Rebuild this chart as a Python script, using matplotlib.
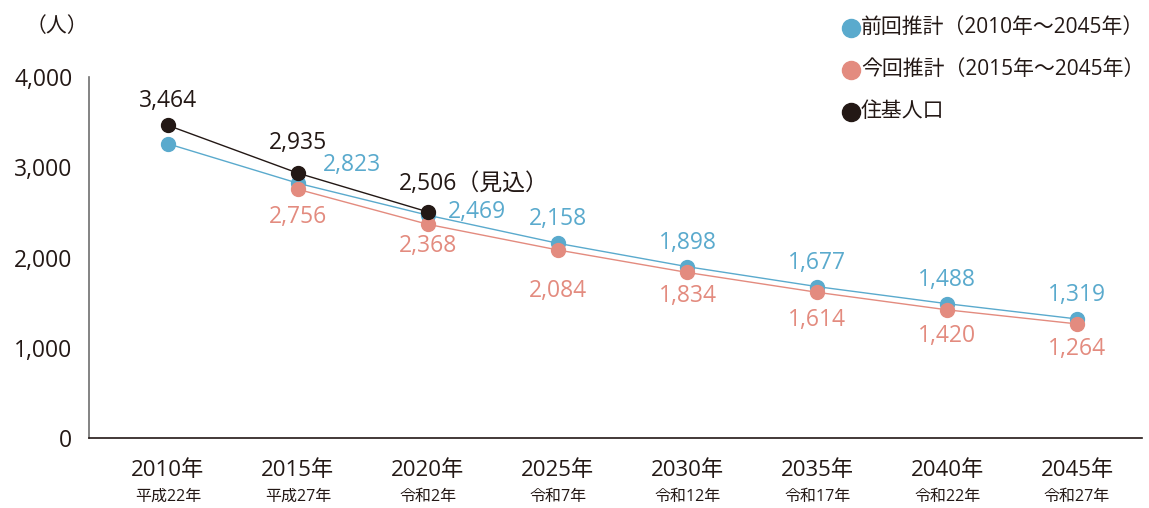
import matplotlib
matplotlib.use("Agg")
import matplotlib.pyplot as plt
from matplotlib.transforms import blended_transform_factory

plt.rcParams['font.family'] = ['Open Sans', 'Noto Sans CJK JP', 'DejaVu Sans']

years = ["2010年", "2015年", "2020年", "2025年", "2030年", "2035年", "2040年", "2045年"]
eras = ["平成22年", "平成27年", "令和2年", "令和7年", "令和12年", "令和17年", "令和22年", "令和27年"]
prev_est = [3260, 2823, 2469, 2158, 1898, 1677, 1488, 1319]   # 前回推計 (2010 unlabeled, estimated)
curr_est = [2756, 2368, 2084, 1834, 1614, 1420, 1264]         # 今回推計 2015-2045
resident = [3464, 2935, 2506]                                 # 住基人口 2010-2020
yticks = [0, 1000, 2000, 3000, 4000]

BLUE = "#5aaacd"
PINK = "#e38b7f"
BLACK = "#231815"
TXT = "#231815"

W, H = 1149, 508
fig = plt.figure(figsize=(W / 100, H / 100), dpi=100)
ax = fig.add_axes([89 / W, (H - 438) / H, (1142 - 89) / W, (438 - 77) / H])

x_all = list(range(len(years)))
x_curr = x_all[1:]
x_res = x_all[:3]

ax.plot(x_all, prev_est, color=BLUE, lw=1.0, marker='o', ms=10, zorder=3)
ax.plot(x_curr, curr_est, color=PINK, lw=1.0, marker='o', ms=10, zorder=3)
ax.plot(x_res, resident, color=BLACK, lw=1.0, marker='o', ms=10, zorder=4)

ax.set_xlim(-0.608, 7.5)
ax.set_ylim(0, 4000)
ax.set_yticks(yticks)
ax.set_yticklabels([f"{v:,}" for v in yticks], fontsize=16.5, color=TXT)
ax.tick_params(axis='y', length=0, pad=12)
ax.set_xticks([])
for s in ['top', 'right']:
    ax.spines[s].set_visible(False)
ax.spines['left'].set_color("#6e6e6e")
ax.spines['left'].set_linewidth(1.2)
ax.spines['bottom'].set_color(BLACK)
ax.spines['bottom'].set_linewidth(1.2)

# x labels
tr = blended_transform_factory(ax.transData, fig.transFigure)
for i, (yr, er) in enumerate(zip(years, eras)):
    ax.text(i, 1 - 471 / H, yr, transform=tr, ha='center', va='center', fontsize=16, color=TXT)
    ax.text(i, 1 - 497 / H, er, transform=tr, ha='center', va='center', fontsize=11.5, color=TXT)

fs = 16.5
def lab(x, y, s, c, dx, dy, ha='center'):
    ax.annotate(s, (x, y), xytext=(dx, dy), textcoords='offset pixels',
                ha=ha, va='center', fontsize=fs, color=c, zorder=5)

# resident labels
lab(x_res[0], resident[0], f"{resident[0]:,}", TXT, 0, 24)
lab(x_res[1], resident[1], f"{resident[1]:,}", TXT, 0, 30)
lab(x_res[2], resident[2], f"{resident[2]:,}（見込）", TXT, -29, 28, ha='left')

# previous estimate labels (skip 2010)
lab(x_all[1], prev_est[1], f"{prev_est[1]:,}", BLUE, 54, 18)
lab(x_all[2], prev_est[2], f"{prev_est[2]:,}", BLUE, 49, 3)
for i in range(3, 8):
    lab(x_all[i], prev_est[i], f"{prev_est[i]:,}", BLUE, 0, 24)

# current estimate labels
offs = [-28, -22, -41, -24, -28, -26, -25]
for xi, v, o in zip(x_curr, curr_est, offs):
    lab(xi, v, f"{v:,}", PINK, 0, o)

# unit label
fig.text(57 / W, 1 - 26 / H, "（人）", ha='center', va='center', fontsize=15, color=TXT)

# legend
leg = [(BLUE, "前回推計（2010年～2045年）"), (PINK, "今回推計（2015年～2045年）"), (BLACK, "住基人口")]
for k, (c, t) in enumerate(leg):
    yy = 1 - (27.5 + 42 * k) / H
    fig.lines.append(plt.Line2D([851 / W], [yy], marker='o', ms=13, color=c, transform=fig.transFigure))
    fig.text(861 / W, yy, t, ha='left', va='center', fontsize=15, color=TXT)

fig.savefig("out.png", dpi=100)
